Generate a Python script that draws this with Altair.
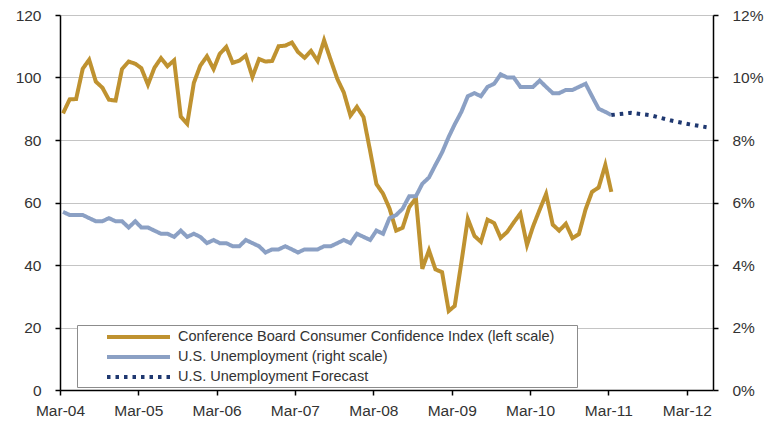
import altair as alt
import pandas as pd

# ---- data ----
conf_start = "2004-03"
confidence = [
    88.5, 93.0, 93.1, 102.8, 105.7, 98.7, 96.7, 92.9, 92.6, 102.7,
    105.1, 104.4, 103.0, 97.7, 103.1, 106.2, 103.6, 105.5, 87.5, 85.2, 98.3, 103.8,
    106.8, 102.7, 107.5, 109.8, 104.7, 105.4, 107.0, 100.2, 105.9, 105.1, 105.3, 110.0,
    110.2, 111.2, 108.2, 106.3, 108.5, 105.3, 111.9, 105.6, 99.5, 95.2, 87.8, 90.6,
    87.3, 76.4, 65.9, 62.8, 58.1, 51.0, 51.9, 58.5, 61.4, 38.8, 44.7, 38.6,
    37.7, 25.3, 26.9, 40.8, 54.8, 49.3, 47.4, 54.5, 53.4, 48.7, 50.6, 53.6,
    56.5, 46.4, 52.3, 57.7, 62.7, 52.9, 51.0, 53.2, 48.6, 49.9, 57.8, 63.4,
    64.8, 72.0, 63.4,
]
unemployment = [
    5.7, 5.6, 5.6, 5.6, 5.5, 5.4, 5.4, 5.5, 5.4, 5.4,
    5.2, 5.4, 5.2, 5.2, 5.1, 5.0, 5.0, 4.9, 5.1, 4.9, 5.0, 4.9,
    4.7, 4.8, 4.7, 4.7, 4.6, 4.6, 4.8, 4.7, 4.6, 4.4, 4.5, 4.5,
    4.6, 4.5, 4.4, 4.5, 4.5, 4.5, 4.6, 4.6, 4.7, 4.8, 4.7, 5.0,
    4.9, 4.8, 5.1, 5.0, 5.5, 5.6, 5.8, 6.2, 6.2, 6.6, 6.8, 7.2,
    7.6, 8.1, 8.5, 8.9, 9.4, 9.5, 9.4, 9.7, 9.8, 10.1, 10.0, 10.0,
    9.7, 9.7, 9.7, 9.9, 9.7, 9.5, 9.5, 9.6, 9.6, 9.7, 9.8, 9.4,
    9.0, 8.9, 8.8,
]
forecast_dates = ["2011-03-15", "2011-06-15", "2011-09-15", "2011-12-15", "2012-03-15", "2012-06-01"]
forecast = [8.8, 8.87, 8.79, 8.63, 8.5, 8.41]

series_names = [
    "Conference Board Consumer Confidence Index (left scale)",
    "U.S. Unemployment (right scale)",
    "U.S. Unemployment Forecast",
]
series_colors = ["#BF9230", "#8BA0C4", "#1F3870"]
series_dash = [[1, 0], [1, 0], [3.5, 5]]

year_ticks = list(range(2004, 2013))

# ---- build table ----
months = pd.date_range(conf_start + "-01", periods=len(confidence), freq="MS")
mid = [d.strftime("%Y-%m-15") for d in months]
rows = []
for d, v in zip(mid, confidence):
    rows.append({"date": d, "value": v, "series": series_names[0]})
for d, v in zip(mid, unemployment):
    rows.append({"date": d, "value": v, "series": series_names[1]})
for d, v in zip(forecast_dates, forecast):
    rows.append({"date": d, "value": v, "series": series_names[2]})
df = pd.DataFrame(rows)

FONT = "Liberation Sans"
TXT = "#333333"

x_enc = alt.X(
    "date:T",
    scale=alt.Scale(
        type="utc",
        domain=[alt.DateTime(year=2004, month=3, date=1, utc=True),
                alt.DateTime(year=2012, month=7, date=1, utc=True)],
    ),
    axis=alt.Axis(
        title=None,
        values=[alt.DateTime(year=y, month=3, date=1, utc=True) for y in year_ticks],
        labelExpr="utcFormat(datum.value, '%b-%y')",
        labelFlush=False,
        grid=False,
        tickSize=5,
        tickColor="black",
        tickWidth=1.5,
        domainColor="black",
        domainWidth=1.5,
        labelPadding=8,
        labelFont=FONT,
        labelFontSize=15.5,
        labelColor=TXT,
    ),
)

# long horizontal stroke drawn in a small nominal symbol box
legend_line = "M-3.9375,0H3.9375"

color_enc = alt.Color(
    "series:N",
    scale=alt.Scale(domain=series_names, range=series_colors),
    legend=alt.Legend(
        title=None,
        orient="none",
        legendX=17,
        legendY=310,
        direction="vertical",
        symbolType=legend_line,
        symbolSize=256,
        symbolStrokeWidth=4,
        symbolOffset=49.5,
        padding=2,
        rowPadding=2,
        labelOffset=29.5,
        labelLimit=0,
        strokeColor="#8c8c8c",
        fillColor="white",
        labelFont=FONT,
        labelFontSize=14.5,
        labelColor=TXT,
        labelExpr="datum.label + '\u00a0\u00a0\u00a0\u00a0\u00a0\u200b'",
    ),
)
dash_enc = alt.StrokeDash(
    "series:N",
    scale=alt.Scale(domain=series_names, range=series_dash),
    legend=None,
)

left = alt.Chart(df).transform_filter(
    alt.datum.series == series_names[0]
).mark_line(strokeWidth=4, strokeJoin="miter").encode(
    x=x_enc,
    y=alt.Y(
        "value:Q",
        scale=alt.Scale(domain=[0, 120], nice=False, zero=True),
        axis=alt.Axis(
            title=None,
            orient="left",
            values=[0, 20, 40, 60, 80, 100, 120],
            grid=True,
            gridColor="#C4C4C4",
            gridWidth=1.2,
            tickSize=5,
            tickColor="black",
            tickWidth=1.5,
            domainColor="black",
            domainWidth=1.5,
            labelPadding=14,
            labelFont=FONT,
            labelFontSize=15.5,
            labelColor=TXT,
        ),
    ),
    color=color_enc,
    strokeDash=dash_enc,
)

right = alt.Chart(df).transform_filter(
    (alt.datum.series == series_names[1]) | (alt.datum.series == series_names[2])
).mark_line(strokeWidth=4, strokeJoin="miter").encode(
    x=x_enc,
    y=alt.Y(
        "value:Q",
        scale=alt.Scale(domain=[0, 12], nice=False, zero=True),
        axis=alt.Axis(
            title=None,
            orient="right",
            values=[0, 2, 4, 6, 8, 10, 12],
            labelExpr="datum.value + '%'",
            grid=False,
            tickSize=5,
            tickColor="black",
            tickWidth=1.5,
            domainColor="black",
            domainWidth=1.5,
            labelPadding=14,
            labelFont=FONT,
            labelFontSize=15.5,
            labelColor=TXT,
        ),
    ),
    color=color_enc,
    strokeDash=dash_enc,
    detail="series:N",
)

chart = alt.layer(left, right).resolve_scale(y="independent").properties(
    width=653,
    height=375,
    autosize=alt.AutoSizeParams(type="none"),
    padding={"left": 52, "top": 7, "right": 53, "bottom": 28},
    background="white",
).configure_view(stroke=None)

chart.save("out.html", embed_options={"renderer": "svg", "actions": False})
